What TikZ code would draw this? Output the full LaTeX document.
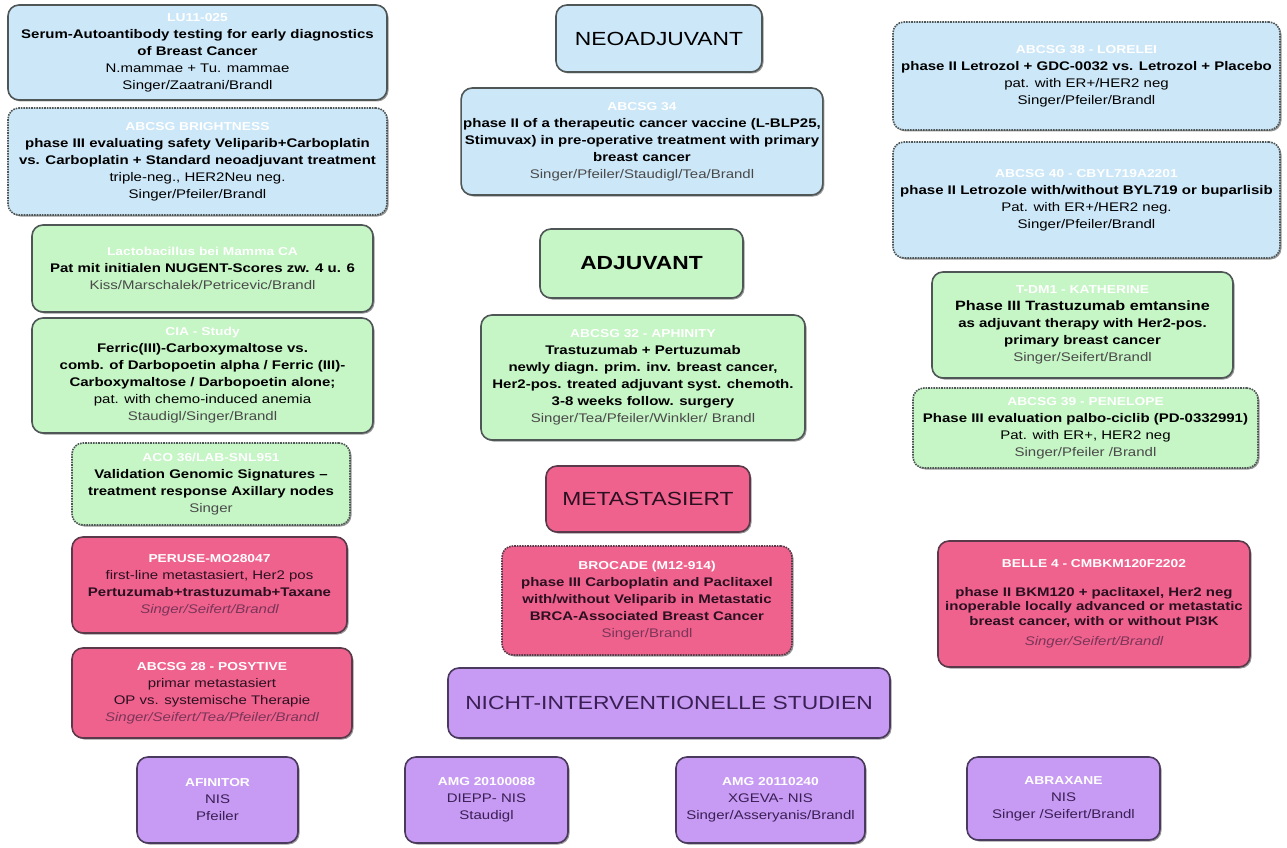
\documentclass[tikz,border=0pt]{standalone}
\usepackage{fontspec}
\setmainfont{Liberation Sans}[FakeStretch=1.2]
\usetikzlibrary{shadows}
\definecolor{bluef}{HTML}{CCE7F8}
\definecolor{greenf}{HTML}{C6F5C6}
\definecolor{pinkf}{HTML}{F0628E}
\definecolor{purf}{HTML}{C79BF3}
\definecolor{bord}{HTML}{4F5656}
\definecolor{pbord}{HTML}{5A3A4A}
\definecolor{vbord}{HTML}{4A3A5E}
\definecolor{auth}{HTML}{4A4A4A}
\definecolor{pauth}{HTML}{7A3558}
\definecolor{ptxt}{HTML}{2A1020}
\definecolor{vtxt}{HTML}{3A1F55}
\newcommand{\ttl}[1]{{\fontsize{11.5}{17}\selectfont\bfseries\color{white}#1}}
\newcommand{\au}[1]{{\color{auth}#1}}
\newcommand{\pau}[1]{{\color{pauth}\itshape #1}}
\tikzset{
  card/.style={rectangle, rounded corners=11pt, draw=bord, line width=1.6pt,
    align=center, inner sep=2pt, font=\fontsize{12.5}{17}\selectfont,
    drop shadow={shadow xshift=1.5pt, shadow yshift=-1.5pt, opacity=0.4, fill=black}},
  dotcard/.style={card, densely dotted},
  headcard/.style={card, font=\fontsize{19}{22}\selectfont},
  bluebox/.style={fill=bluef},
  greenbox/.style={fill=greenf},
  pinkbox/.style={fill=pinkf, draw=pbord, text=ptxt},
  purbox/.style={fill=purf, draw=vbord, text=vtxt},
  sz/.style 2 args={minimum width=#1pt, minimum height=#2pt}
}
\begin{document}
\begin{tikzpicture}[x=1pt,y=-1pt]
\useasboundingbox[fill=white] (0,0) rectangle (1287,848);

% ---------- left column ----------
\node[card, bluebox, sz={379}{95}] (lu) at (197.5,52.5) {\ttl{LU11-025}\\
\textbf{Serum-Autoantibody testing for early diagnostics}\\
\textbf{of Breast Cancer}\\
N.mammae + Tu. mammae\\
Singer/Zaatrani/Brandl};

\node[dotcard, bluebox, sz={379}{107}] (bright) at (197.5,161.5) {\ttl{ABCSG BRIGHTNESS}\\
\textbf{phase III evaluating safety Veliparib+Carboplatin}\\
\textbf{vs. Carboplatin + Standard neoadjuvant treatment}\\
triple-neg., HER2Neu neg.\\
Singer/Pfeiler/Brandl};

\node[card, greenbox, sz={341}{87}] (lacto) at (202.5,268.5) {\ttl{Lactobacillus bei Mamma CA}\\
\textbf{Pat mit initialen NUGENT-Scores zw. 4 u. 6}\\
\au{Kiss/Marschalek/Petricevic/Brandl}};

\node[card, greenbox, sz={341}{115}] (cia) at (202.5,375.5) {\ttl{CIA - Study}\\
\textbf{Ferric(III)-Carboxymaltose vs.}\\
\textbf{comb. of Darbopoetin alpha / Ferric (III)-}\\
\textbf{Carboxymaltose / Darbopoetin alone;}\\
pat. with chemo-induced anemia\\
\au{Staudigl/Singer/Brandl}};

\node[dotcard, greenbox, sz={278}{82}] (aco) at (211,484) {\ttl{ACO 36/LAB-SNL951}\\
\textbf{Validation Genomic Signatures –}\\
\textbf{treatment response Axillary nodes}\\
\au{Singer}};

\node[card, pinkbox, sz={275}{96}] (peruse) at (209.5,585) {\ttl{PERUSE-MO28047}\\
first-line metastasiert, Her2 pos\\
\textbf{Pertuzumab+trastuzumab+Taxane}\\
\pau{Singer/Seifert/Brandl}};

\node[card, pinkbox, sz={280}{90}] (posytive) at (212,693) {\ttl{ABCSG 28 - POSYTIVE}\\
primar metastasiert\\
OP vs. systemische Therapie\\
\pau{Singer/Seifert/Tea/Pfeiler/Brandl}};

\node[card, purbox, sz={161}{86}] (afinitor) at (217.5,800) {\ttl{AFINITOR}\\
NIS\\
Pfeiler};

% ---------- middle column ----------
\node[headcard, bluebox, sz={206}{67}] (neo) at (659,38.5) {NEOADJUVANT};

\node[card, bluebox, sz={360}{107}] (a34) at (642,141.5) {\ttl{ABCSG 34}\\
\textbf{phase II of a therapeutic cancer vaccine (L-BLP25,}\\
\textbf{Stimuvax) in pre-operative treatment with primary}\\
\textbf{breast cancer}\\
\au{Singer/Pfeiler/Staudigl/Tea/Brandl}};

\node[headcard, greenbox, sz={203}{69}] (adj) at (641.5,263.5) {\textbf{ADJUVANT}};

\node[card, greenbox, sz={324}{125}] (aph) at (643,377.5) {\ttl{ABCSG 32 - APHINITY}\\
\textbf{Trastuzumab + Pertuzumab}\\
\textbf{newly diagn. prim. inv. breast cancer,}\\
\textbf{Her2-pos. treated adjuvant syst. chemoth.}\\
\textbf{3-8 weeks follow. surgery}\\
\au{Singer/Tea/Pfeiler/Winkler/ Brandl}};

\node[headcard, pinkbox, sz={204}{66}] (meta) at (648,499) {METASTASIERT};

\node[dotcard, pinkbox, sz={290}{109}] (brocade) at (647,600.5) {\ttl{BROCADE (M12-914)}\\
\textbf{phase III Carboplatin and Paclitaxel}\\
\textbf{with/without Veliparib in Metastatic}\\
\textbf{BRCA-Associated Breast Cancer}\\
{\color{pauth}Singer/Brandl}};

\node[headcard, purbox, sz={442}{70}] (nis) at (669,703) {NICHT-INTERVENTIONELLE STUDIEN};

\node[card, purbox, sz={163}{86}] (amga) at (486.5,800) {\ttl{AMG 20100088}\\
DIEPP- NIS\\
Staudigl};

\node[card, purbox, sz={189}{86}] (amgb) at (770.5,800) {\ttl{AMG 20110240}\\
XGEVA- NIS\\
Singer/Asseryanis/Brandl};

% ---------- right column ----------
\node[dotcard, bluebox, sz={387}{108}] (lorelei) at (1086.5,76) {\ttl{ABCSG 38 - LORELEI}\\
\textbf{phase II Letrozol + GDC-0032 vs. Letrozol + Placebo}\\
pat. with ER+/HER2 neg\\
Singer/Pfeiler/Brandl};

\node[dotcard, bluebox, sz={387}{116}] (byl) at (1086.5,200) {\ttl{ABCSG 40 - CBYL719A2201}\\
\textbf{phase II Letrozole with/without BYL719 or buparlisib}\\
Pat. with ER+/HER2 neg.\\
Singer/Pfeiler/Brandl};

\node[card, greenbox, sz={301}{106}] (kath) at (1082.5,325) {\ttl{T-DM1 - KATHERINE}\\
{\fontsize{13.5}{17}\selectfont\bfseries Phase III Trastuzumab emtansine}\\
\textbf{as adjuvant therapy with Her2-pos.}\\
\textbf{primary breast cancer}\\
\au{Singer/Seifert/Brandl}};

\node[dotcard, greenbox, sz={345}{80}] (pen) at (1085.5,428) {\ttl{ABCSG 39 - PENELOPE}\\
\textbf{Phase III evaluation palbo-ciclib (PD-0332991)}\\
Pat. with ER+, HER2 neg\\
\au{Singer/Pfeiler /Brandl}};

\node[card, pinkbox, sz={312}{126}, font=\fontsize{12.5}{14.5}\selectfont] (belle) at (1094,604) {\ttl{BELLE 4 - CMBKM120F2202}\\[14pt]
\textbf{phase II BKM120 + paclitaxel, Her2 neg}\\
\textbf{inoperable locally advanced or metastatic}\\
\textbf{breast cancer, with or without PI3K}\\[6pt]
\pau{Singer/Seifert/Brandl}};

\node[card, purbox, sz={193}{83}] (abrax) at (1063.5,798.5) {\ttl{ABRAXANE}\\
NIS\\
Singer /Seifert/Brandl};
\end{tikzpicture}
\end{document}
